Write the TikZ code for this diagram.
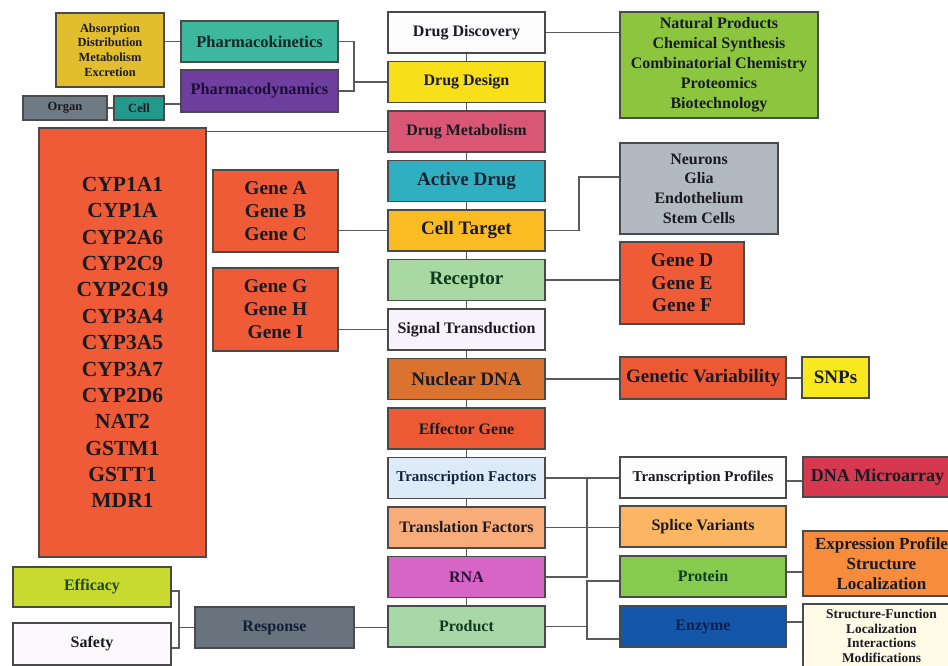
\documentclass[tikz,border=0pt]{standalone}
\usepackage{fontspec}
\setmainfont{Liberation Serif}
\newcommand\myfs[2]{\fontsize{#1pt}{#2pt}\selectfont\bfseries}
\definecolor{bordc}{HTML}{4A4A4A}
\definecolor{linec}{HTML}{5A5A5A}
\definecolor{txt}{HTML}{1A1A22}
\definecolor{cADME}{HTML}{E2BE2E}
\definecolor{cPk}{HTML}{3DB89E}
\definecolor{tPk}{HTML}{0F2626}
\definecolor{cPd}{HTML}{6F3FA0}
\definecolor{tPd}{HTML}{1A0F33}
\definecolor{cOrg}{HTML}{6E7B85}
\definecolor{cCell}{HTML}{22998A}
\definecolor{cRed}{HTML}{EE5B36}
\definecolor{cWhite}{HTML}{FDFDFD}
\definecolor{cDDes}{HTML}{F7E01A}
\definecolor{cDM}{HTML}{D95774}
\definecolor{cAD}{HTML}{2FAFC0}
\definecolor{tAD}{HTML}{0F2433}
\definecolor{cCT}{HTML}{FBBB22}
\definecolor{cRec}{HTML}{A8D9A2}
\definecolor{tGreen}{HTML}{0F3A1F}
\definecolor{cST}{HTML}{F7F3FA}
\definecolor{cND}{HTML}{DB7330}
\definecolor{cEG}{HTML}{EC5A35}
\definecolor{cTF}{HTML}{DDEBF8}
\definecolor{tTF}{HTML}{15243F}
\definecolor{cTrF}{HTML}{F8AC7A}
\definecolor{cRNA}{HTML}{D765C5}
\definecolor{tRNA}{HTML}{2A0F3A}
\definecolor{cProd}{HTML}{A9D8A8}
\definecolor{cNP}{HTML}{8CC63F}
\definecolor{cNeu}{HTML}{B3B9C0}
\definecolor{cSNP}{HTML}{F8E81E}
\definecolor{cSV}{HTML}{FBB563}
\definecolor{cProt}{HTML}{86CB4E}
\definecolor{cEnz}{HTML}{1457A8}
\definecolor{tEnz}{HTML}{0A1E4A}
\definecolor{cDNAM}{HTML}{D5384F}
\definecolor{cEP}{HTML}{F68C3C}
\definecolor{cSF}{HTML}{FFFBE6}
\definecolor{cEff}{HTML}{C8D930}
\definecolor{tEff}{HTML}{1E4A12}
\definecolor{cSaf}{HTML}{FBF9FB}
\definecolor{cResp}{HTML}{68737D}
\definecolor{tResp}{HTML}{0F1F33}
\begin{document}
\begin{tikzpicture}[x=1pt,y=-1pt,
  box/.style={draw=bordc, line width=1.1pt, inner sep=0pt, align=center, text=txt},
  lnk/.style={draw=linec, line width=1.1pt},
  cbox/.style={box, minimum width=157pt, minimum height=41pt},
  rbox/.style={box, minimum width=166pt, minimum height=41pt},
  fbox/.style={box, minimum width=157pt}]
\useasboundingbox (0,0) rectangle (948,666);
\clip (0,0) rectangle (948,666);
\fill[white] (0,0) rectangle (948,666);

% left top
\node[box, fill=cADME, minimum width=108pt, minimum height=74pt, font=\myfs{12.4}{14.7}] (ADME) at (110,50) {Absorption\\Distribution\\Metabolism\\Excretion};
\node[box, fill=cPk, minimum width=157pt, minimum height=41pt, font=\myfs{16.5}{19}, text=tPk] (Pk) at (259.5,41.5) {Pharmacokinetics};
\node[box, fill=cPd, minimum width=157pt, minimum height=42pt, font=\myfs{16.3}{19}, text=tPd] (Pd) at (259.5,91) {Pharmacodynamics};
\node[box, fill=cOrg, minimum width=84pt, minimum height=24pt, font=\myfs{12.5}{14}] (Org) at (65,108) {Organ};
\node[box, fill=cCell, minimum width=50pt, minimum height=24pt, font=\myfs{12.5}{14}] (Cell) at (139,108) {Cell};

% left lists
\node[box, fill=cRed, minimum width=167pt, minimum height=429pt, font=\myfs{21.5}{26.4}] (CYP) at (122.5,342.5) {CYP1A1\\CYP1A\\CYP2A6\\CYP2C9\\CYP2C19\\CYP3A4\\CYP3A5\\CYP3A7\\CYP2D6\\NAT2\\GSTM1\\GSTT1\\MDR1};
\node[box, fill=cRed, minimum width=125pt, minimum height=82pt, font=\myfs{19.5}{23}] (GA) at (275.5,211) {Gene A\\Gene B\\Gene C};
\node[box, fill=cRed, minimum width=125pt, minimum height=83pt, font=\myfs{19.5}{23}] (GG) at (275.5,309.5) {Gene G\\Gene H\\Gene I};

% center column
\node[cbox, fill=cWhite, font=\myfs{16}{19}] (DD) at (466.5,32.5) {Drug Discovery};
\node[cbox, fill=cDDes, font=\myfs{16}{19}] (DDes) at (466.5,82) {Drug Design};
\node[cbox, fill=cDM, font=\myfs{16}{19}] (DM) at (466.5,131.5) {Drug Metabolism};
\node[cbox, fill=cAD, font=\myfs{19}{22}, text=tAD] (AD) at (466.5,181) {Active Drug};
\node[cbox, fill=cCT, font=\myfs{19}{22}] (CT) at (466.5,230.5) {Cell Target};
\node[cbox, fill=cRec, font=\myfs{19}{22}, text=tGreen] (Rec) at (466.5,280) {Receptor};
\node[cbox, fill=cST, font=\myfs{16}{19}] (ST) at (466.5,329.5) {Signal Transduction};
\node[cbox, fill=cND, font=\myfs{19}{22}] (ND) at (466.5,379) {Nuclear DNA};
\node[cbox, fill=cEG, font=\myfs{16}{19}] (EG) at (466.5,428.5) {Effector Gene};
\node[cbox, fill=cTF, font=\myfs{15}{18}, text=tTF] (TF) at (466.5,478) {Transcription Factors};
\node[cbox, fill=cTrF, font=\myfs{16}{19}] (TrF) at (466.5,527.5) {Translation Factors};
\node[cbox, fill=cRNA, font=\myfs{16}{19}, text=tRNA] (RNA) at (466.5,577) {RNA};
\node[cbox, fill=cProd, font=\myfs{16}{19}, text=tGreen] (Prod) at (466.5,626.5) {Product};

% right column
\node[box, fill=cNP, minimum width=198pt, minimum height=106pt, font=\myfs{16}{20}] (NP) at (719,65) {Natural Products\\Chemical Synthesis\\Combinatorial Chemistry\\Proteomics\\Biotechnology};
\node[box, fill=cNeu, minimum width=158pt, minimum height=91pt, font=\myfs{16}{19.7}] (Neu) at (699,188.5) {Neurons\\Glia\\Endothelium\\Stem Cells};
\node[box, fill=cRed, minimum width=124pt, minimum height=82pt, font=\myfs{19.5}{22.5}] (GD) at (682,283) {Gene D\\Gene E\\Gene F};
\node[rbox, minimum height=42pt, fill=cEG, font=\myfs{19}{22}] (GV) at (703,378) {Genetic Variability};
\node[box, fill=cSNP, minimum width=67pt, minimum height=41pt, font=\myfs{19}{22}] (SNP) at (835.5,377.5) {SNPs};
\node[rbox, fill=cWhite, font=\myfs{15}{18}] (TP) at (703,477.5) {Transcription Profiles};
\node[rbox, fill=cSV, font=\myfs{16}{19}] (SV) at (703,526.5) {Splice Variants};
\node[rbox, fill=cProt, font=\myfs{16}{19}, text=tGreen] (Prot) at (703,576.5) {Protein};
\node[rbox, fill=cEnz, font=\myfs{16}{19}, text=tEnz] (Enz) at (703,626.5) {Enzyme};

% far right
\node[box, fill=cDNAM, minimum width=149pt, minimum height=40pt, font=\myfs{18}{21}] (DNAM) at (877.5,477) {DNA Microarray};
\node[fbox, fill=cEP, minimum height=65pt, font=\myfs{17}{20}] (EP) at (881.5,563.5) {Expression Profile\\Structure\\Localization};
\node[fbox, fill=cSF, minimum height=64pt, font=\myfs{13.4}{14.4}] (SF) at (881.5,636) {Structure-Function\\Localization\\Interactions\\Modifications};

% bottom left
\node[box, fill=cEff, minimum width=158pt, minimum height=40pt, font=\myfs{16}{19}, text=tEff] (Eff) at (92,587) {Efficacy};
\node[box, fill=cSaf, minimum width=158pt, minimum height=42pt, font=\myfs{16}{19}] (Saf) at (92,644) {Safety};
\node[box, fill=cResp, minimum width=159pt, minimum height=41pt, font=\myfs{16}{19}, text=tResp] (Resp) at (274.5,627.5) {Response};

% junction coordinates
\coordinate (j1) at (354,82);
\coordinate (j2) at (579,177);
\coordinate (bA) at (587,478);
\coordinate (bT) at (587,581);
\coordinate (bB) at (587,639);
\coordinate (e1) at (179,591);
\coordinate (e2) at (179,648);

% connectors
\draw[lnk] (ADME.east |- Pk.west) -- (Pk.west);
\draw[lnk] (Pk.east) -| (j1) |- (Pd.east);
\draw[lnk] (j1) -- (DDes.west);
\draw[lnk] (Org.east) -- (Cell.west);
\draw[lnk] (Cell.east |- 0,104) -- (Pd.west |- 0,104);
\draw[lnk] (DM.west -| CYP.east) -- (DM.west);
\draw[lnk] (CT.west -| GA.east) -- (CT.west);
\draw[lnk] (ST.west -| GG.east) -- (ST.west);

\foreach \a/\b in {DD/DDes,DDes/DM,DM/AD,AD/CT,CT/Rec,Rec/ST,ST/ND,ND/EG,EG/TF,TF/TrF,TrF/RNA,RNA/Prod}
  \draw[lnk] (\a.south) -- (\b.north);

\draw[lnk] (DD.east) -- (DD.east -| NP.west);
\draw[lnk] (CT.east) -| (j2) -- (j2 -| Neu.west);
\draw[lnk] (Rec.east) -- (Rec.east -| GD.west);
\draw[lnk] (ND.east) -- (ND.east -| GV.west);
\draw[lnk] (GV.east) -- (GV.east -| SNP.west);
\draw[lnk] (TF.east) -- (TF.east -| TP.west);
\draw[lnk] (TrF.east) -- (TrF.east -| SV.west);
\draw[lnk] (RNA.east) -| (bA);
\draw[lnk] (Prot.west |- bT) -- (bT) -- (bB) -- (Enz.west |- bB);
\draw[lnk] (Prod.east) -- (Prod.east -| bT);
\draw[lnk] (TP.east |- 0,481) -- (DNAM.west |- 0,481);
\draw[lnk] (Prot.east |- 0,572) -- (EP.west |- 0,572);
\draw[lnk] (Enz.east |- 0,622) -- (SF.west |- 0,622);
\draw[lnk] (Eff.east |- e1) -- (e1) -- (e2) -- (Saf.east |- e2);
\draw[lnk] (Resp.west -| e1) -- (Resp.west);
\draw[lnk] (Resp.east) -- (Resp.east -| Prod.west);
\end{tikzpicture}
\end{document}
